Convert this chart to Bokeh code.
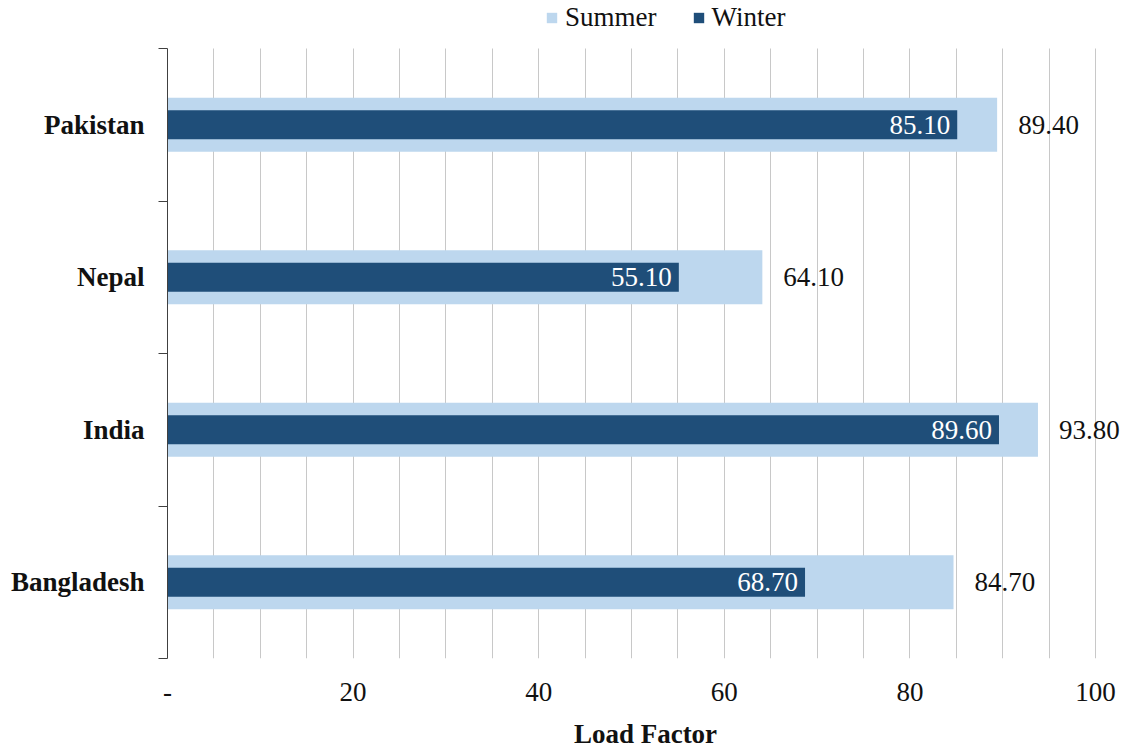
from bokeh.plotting import figure
from bokeh.models import (ColumnDataSource, FixedTicker, Legend, LegendItem,
                          LabelSet, Range1d)
from bokeh.core.properties import value
from bokeh.embed import file_html
from bokeh.resources import INLINE

# Load factor by country, summer vs winter
categories = ["Bangladesh", "India", "Nepal", "Pakistan"]
summer = [84.7, 93.8, 64.1, 89.4]
winter = [68.7, 89.6, 55.1, 85.1]

x_ticks = [0, 20, 40, 60, 80, 100]
x_tick_labels = ["-", "20", "40", "60", "80", "100"]

SERIF = "Liberation Serif"
FS = "27px"

# 9.28 px per x unit; the frame runs on to the right edge so that
# outside-end labels are not clipped
PX_PER_X = 9.28
FRAME_W = 956
X_END = FRAME_W / PX_PER_X

# 152.5 px per category; 48 px of headroom above the bars for the legend
PX_PER_CAT = 152.5
HEADROOM = 48
N = len(categories)
FRAME_H = int(N * PX_PER_CAT + HEADROOM)
Y_END = N + HEADROOM / PX_PER_CAT

y_pos = [i + 0.5 for i in range(N)]
src = ColumnDataSource(dict(
    y=y_pos,
    summer=summer,
    winter=winter,
    summer_txt=[f"{v:.2f}" for v in summer],
    winter_txt=[f"{v:.2f}" for v in winter],
))

p = figure(frame_width=FRAME_W, frame_height=FRAME_H,
           x_range=Range1d(0, X_END), y_range=Range1d(0, Y_END),
           output_backend="svg", toolbar_location=None,
           min_border_left=167, min_border_right=0,
           min_border_top=0, min_border_bottom=90)
p.outline_line_color = None
p.background_fill_color = "white"

r_summer = p.hbar(y="y", left=0, right="summer", height=0.355,
                  fill_color="#BDD7EE", line_color=None, source=src)
r_winter = p.hbar(y="y", left=0, right="winter", height=0.19,
                  fill_color="#1F4E79", line_color=None, source=src)

# value labels
p.add_layout(LabelSet(x="winter", y="y", text="winter_txt", source=src,
                      x_offset=-7, text_align="right", text_baseline="middle",
                      text_color="white", text_font=value(SERIF),
                      text_font_size=value(FS)))
p.add_layout(LabelSet(x="summer", y="y", text="summer_txt", source=src,
                      x_offset=21, text_align="left", text_baseline="middle",
                      text_color="#111111", text_font=value(SERIF),
                      text_font_size=value(FS)))

# grid: vertical lines every 5 units, only over the category band
p.ygrid.visible = False
p.xgrid.ticker = FixedTicker(ticks=list(range(0, 101, 5)))
p.xgrid.grid_line_color = "#C8C8C8"
p.xgrid.grid_line_width = 1
p.xgrid.cross_bounds = (0, N)

# x axis
xa = p.xaxis[0]
xa.ticker = FixedTicker(ticks=x_ticks)
xa.major_label_overrides = {t: lab for t, lab in zip(x_ticks, x_tick_labels)}
xa.axis_line_color = None
xa.major_tick_line_color = None
xa.minor_tick_line_color = None
xa.major_tick_out = 0
xa.major_label_standoff = 24
xa.major_label_text_font = SERIF
xa.major_label_text_font_size = FS
xa.major_label_text_color = "#111111"
xa.axis_label = "Load Factor"
xa.axis_label_text_font = SERIF
xa.axis_label_text_font_size = FS
xa.axis_label_text_font_style = "bold"
xa.axis_label_text_color = "#111111"
xa.axis_label_standoff = 15

# y axis: labels at category centres, ticks at category boundaries
ya = p.yaxis[0]
ya.bounds = (0, N)
ya.ticker = FixedTicker(ticks=y_pos, minor_ticks=list(range(N + 1)))
ya.major_label_overrides = {y: c for y, c in zip(y_pos, categories)}
ya.major_tick_line_color = None
ya.major_tick_out = 0
ya.major_tick_in = 0
ya.minor_tick_line_color = "#404040"
ya.minor_tick_out = 9
ya.minor_tick_in = 0
ya.axis_line_color = "#404040"
ya.major_label_standoff = 14
ya.major_label_text_font = SERIF
ya.major_label_text_font_size = FS
ya.major_label_text_font_style = "bold"
ya.major_label_text_color = "#111111"

legend = Legend(items=[LegendItem(label="Summer", renderers=[r_summer]),
                       LegendItem(label="Winter", renderers=[r_winter])],
                orientation="horizontal", location=(378, FRAME_H - 33),
                glyph_width=13, glyph_height=13, label_standoff=7,
                spacing=35, padding=0, margin=0,
                label_text_font=SERIF, label_text_font_size=FS,
                label_text_color="#111111",
                border_line_color=None, background_fill_alpha=0)
p.add_layout(legend, "center")

open("out.html", "w").write(file_html(p, INLINE))
